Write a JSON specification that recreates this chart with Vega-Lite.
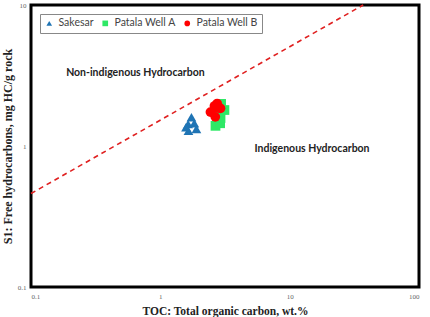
{
  "$schema": "https://vega.github.io/schema/vega-lite/v6.json",
  "width": 388,
  "height": 282,
  "autosize": {"type": "none"},
  "padding": {"left": 31, "top": 5, "right": 11, "bottom": 30},
  "background": "white",
  "config": {
    "view": {"stroke": "black", "strokeWidth": 3},
    "axis": {
      "domain": false, "ticks": false, "grid": false,
      "labelFont": "Liberation Serif", "labelFontSize": 7, "labelColor": "#666",
      "titleFont": "Liberation Serif", "titleFontSize": 11.5, "titleFontWeight": "bold", "titleColor": "#222"
    }
  },
  "datasets": {
    "pts": [
      {"series": "Sakesar", "toc": 1.74, "s1": 1.6},
      {"series": "Sakesar", "toc": 1.64, "s1": 1.43},
      {"series": "Sakesar", "toc": 1.83, "s1": 1.45},
      {"series": "Sakesar", "toc": 1.65, "s1": 1.28},
      {"series": "Sakesar", "toc": 1.9, "s1": 1.32},
      {"series": "Sakesar", "toc": 1.58, "s1": 1.36},
      {"series": "Patala Well A", "toc": 2.67, "s1": 1.39},
      {"series": "Patala Well A", "toc": 2.9, "s1": 1.45},
      {"series": "Patala Well A", "toc": 2.92, "s1": 1.58},
      {"series": "Patala Well A", "toc": 3.13, "s1": 1.8},
      {"series": "Patala Well A", "toc": 2.95, "s1": 1.99},
      {"series": "Patala Well A", "toc": 2.75, "s1": 1.7},
      {"series": "Patala Well B", "toc": 2.44, "s1": 1.74},
      {"series": "Patala Well B", "toc": 2.62, "s1": 1.92},
      {"series": "Patala Well B", "toc": 2.81, "s1": 1.86},
      {"series": "Patala Well B", "toc": 2.66, "s1": 1.61},
      {"series": "Patala Well B", "toc": 2.92, "s1": 1.85},
      {"series": "Patala Well B", "toc": 2.75, "s1": 2.0}
    ],
    "boundary": [
      {"toc": 0.1, "s1": 0.46},
      {"toc": 37, "s1": 10}
    ],
    "labels": [
      {"toc": 0.187, "s1": 3.3, "text": "Non-indigenous Hydrocarbon"},
      {"toc": 5.35, "s1": 0.95, "text": "Indigenous Hydrocarbon"}
    ]
  },
  "layer": [
    {
      "data": {"name": "boundary"},
      "mark": {"type": "line", "color": "#e02020", "strokeWidth": 1.6, "strokeDash": [5, 4]},
      "encoding": {
        "x": {"field": "toc", "type": "quantitative"},
        "y": {"field": "s1", "type": "quantitative"}
      }
    },
    {
      "data": {"name": "pts"},
      "mark": {"type": "point", "filled": true, "opacity": 1, "size": 95},
      "encoding": {
        "x": {
          "field": "toc", "type": "quantitative",
          "scale": {"type": "log", "domain": [0.1, 100], "nice": false},
          "axis": {"values": [0.1, 1, 10, 100], "format": "~g", "labelPadding": 5, "title": "TOC: Total organic carbon, wt.%", "titlePadding": 6}
        },
        "y": {
          "field": "s1", "type": "quantitative",
          "scale": {"type": "log", "domain": [0.1, 10], "nice": false},
          "axis": {"values": [0.1, 1, 10], "format": "~g", "labelPadding": 5, "title": "S1: Free hydrocarbons, mg HC/g rock", "titlePadding": 3, "titleFontSize": 12}
        },
        "color": {
          "field": "series", "type": "nominal",
          "scale": {"domain": ["Sakesar", "Patala Well A", "Patala Well B"], "range": ["#1f74b4", "#2ee866", "#ff0000"]},
          "legend": {
            "title": null, "orient": "none", "legendX": 9, "legendY": 9, "direction": "horizontal",
            "strokeColor": "#888", "padding": 4, "symbolSize": 32, "labelOffset": 4,
            "labelFont": "Lato", "labelFontSize": 10.5, "labelColor": "#444", "columnPadding": 6, "symbolOpacity": 1
          }
        },
        "shape": {
          "field": "series", "type": "nominal",
          "scale": {"domain": ["Sakesar", "Patala Well A", "Patala Well B"], "range": ["triangle-up", "square", "circle"]},
          "legend": null
        }
      }
    },
    {
      "data": {"name": "labels"},
      "mark": {"type": "text", "align": "left", "baseline": "middle", "font": "Lato", "fontWeight": "bold", "fontSize": 10.5, "color": "#222"},
      "encoding": {
        "x": {"field": "toc", "type": "quantitative"},
        "y": {"field": "s1", "type": "quantitative"},
        "text": {"field": "text"}
      }
    }
  ]
}
